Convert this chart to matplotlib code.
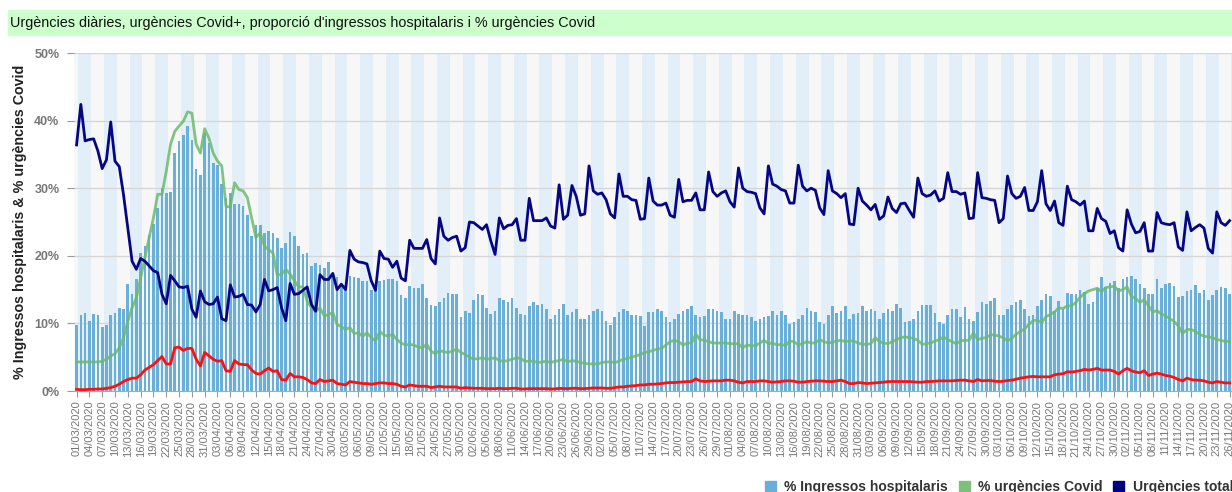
import matplotlib.pyplot as plt
import matplotlib.patches as mpatches
import pandas as pd

plt.rcParams['font.family'] = ['Liberation Sans', 'DejaVu Sans']

# dates: one point per day from 01/03/2020
start_date = '2020-03-01'
n_days = 271

# % ingressos hospitalaris (bars)
ingressos = [
    9.75, 11.2, 11.6, 10.4, 11.4, 11.2, 9.5, 9.7, 11.3, 11.5,
    12.3, 12.2, 15.8, 14.4, 16.5, 20.4, 21.4, 23.1, 24.7, 27.1,
    30.1, 29.3, 29.5, 35.2, 37.0, 37.8, 39.2, 37.2, 32.9, 31.9,
    38.2, 36.7, 33.7, 33.5, 30.6, 28.6, 29.3, 27.6, 27.7, 27.3,
    26.1, 22.9, 24.5, 24.5, 23.4, 23.6, 23.4, 22.7, 21.2, 21.9,
    23.5, 22.9, 21.4, 20.2, 20.4, 18.5, 19.0, 18.6, 18.2, 19.1,
    17.2, 16.8, 15.7, 15.4, 17.0, 16.8, 16.7, 16.3, 16.3, 15.0,
    15.7, 16.3, 16.4, 16.5, 16.5, 16.3, 14.2, 13.8, 15.5, 15.2,
    15.3, 15.8, 13.8, 12.7, 12.6, 13.2, 13.8, 14.5, 14.4, 14.3,
    10.9, 11.8, 11.6, 13.4, 14.4, 14.2, 12.3, 11.4, 11.9, 13.8,
    13.4, 13.1, 13.8, 12.3, 11.4, 11.3, 12.6, 13.1, 12.7, 12.9,
    12.2, 10.7, 11.3, 12.1, 12.9, 11.2, 11.7, 12.2, 10.7, 10.7,
    11.3, 11.8, 12.1, 11.8, 10.4, 9.75, 10.9, 11.7, 12.2, 11.8,
    11.2, 11.3, 11.1, 9.6, 11.7, 11.7, 12.2, 11.8, 10.9, 10.2,
    10.6, 11.4, 11.8, 12.1, 12.6, 11.3, 10.9, 11.1, 12.1, 12.1,
    11.8, 11.7, 10.6, 10.6, 11.8, 11.4, 11.2, 11.3, 10.9, 10.4,
    10.7, 10.9, 11.1, 11.9, 11.3, 11.9, 11.2, 9.85, 10.2, 10.6,
    11.3, 12.3, 11.8, 11.7, 10.2, 9.85, 11.2, 12.6, 11.6, 11.8,
    12.6, 10.7, 11.4, 11.6, 12.6, 11.9, 12.1, 11.9, 10.7, 11.6,
    12.2, 11.8, 12.9, 12.3, 10.2, 10.3, 10.6, 11.9, 12.7, 12.7,
    12.7, 11.6, 10.2, 9.85, 11.2, 12.1, 12.2, 10.9, 12.4, 10.7,
    10.4, 11.7, 13.2, 12.9, 13.3, 13.8, 11.3, 11.3, 12.2, 12.7,
    13.1, 13.5, 12.2, 11.1, 11.3, 12.6, 13.4, 14.3, 14.0, 11.8,
    13.3, 12.1, 14.5, 14.4, 14.3, 15.0, 14.7, 12.9, 13.2, 15.2,
    16.8, 15.4, 16.0, 16.2, 15.3, 16.5, 16.8, 17.0, 16.5, 15.8,
    15.2, 14.4, 14.3, 16.5, 15.3, 15.8, 16.0, 15.5, 13.9, 14.0,
    14.8, 15.0, 15.7, 14.5, 15.0, 13.4, 14.2, 15.0, 15.4, 15.2, 14.3,
]

# % urgències Covid (green line)
urg_covid = [
    4.3, 4.3, 4.3, 4.3, 4.3, 4.3, 4.4, 4.7, 5.2, 5.5,
    6.4, 7.9, 10.3, 12.3, 13.8, 16.7, 19.7, 22.7, 25.6, 29.1,
    29.1, 32.5, 36.5, 38.4, 39.2, 39.9, 41.3, 41.1, 36.5, 35.2,
    38.8, 37.4, 35.2, 34.0, 33.3, 27.3, 27.2, 30.8, 29.8, 29.6,
    28.6, 25.6, 22.7, 23.4, 21.4, 20.9, 20.4, 17.1, 17.3, 18.0,
    17.3, 16.3, 15.4, 15.4, 13.3, 12.3, 11.8, 12.3, 11.1, 11.3,
    11.6, 9.85, 9.5, 9.1, 9.4, 8.5, 8.6, 8.1, 8.6, 7.9,
    7.4, 8.8, 8.3, 8.1, 8.4, 7.6, 7.1, 6.8, 6.9, 6.8,
    6.5, 6.4, 6.9, 5.9, 5.5, 6.0, 5.8, 5.7, 5.9, 6.2,
    5.7, 5.4, 5.0, 4.7, 4.8, 4.9, 4.7, 4.8, 4.9, 4.5,
    4.4, 4.5, 4.7, 4.9, 4.8, 4.4, 4.4, 4.4, 4.2, 4.3,
    4.4, 4.2, 4.4, 4.5, 4.7, 4.3, 4.5, 4.4, 4.2, 4.1,
    4.0, 4.0, 4.0, 4.2, 4.3, 4.3, 4.2, 4.4, 4.7, 4.8,
    5.0, 5.2, 5.4, 5.7, 5.8, 6.0, 6.2, 6.3, 6.8, 7.3,
    7.5, 7.3, 6.8, 7.1, 7.1, 8.4, 7.6, 7.5, 7.3, 7.1,
    7.1, 7.1, 7.1, 7.0, 7.0, 7.0, 6.4, 6.8, 6.7, 6.7,
    7.1, 7.5, 7.0, 7.1, 6.8, 6.9, 6.7, 7.4, 7.3, 6.8,
    7.0, 7.3, 7.1, 7.1, 7.6, 7.3, 7.1, 7.2, 7.4, 7.5,
    7.3, 7.4, 7.4, 7.1, 6.9, 6.9, 7.0, 7.9, 7.3, 7.1,
    7.0, 7.3, 7.6, 7.9, 8.0, 7.9, 7.8, 7.5, 6.9, 7.0,
    7.1, 7.4, 7.6, 8.0, 7.6, 7.3, 7.0, 7.4, 7.5, 7.5,
    8.6, 7.6, 7.8, 7.9, 8.3, 8.3, 8.1, 7.9, 7.4, 7.8,
    8.4, 8.8, 9.2, 9.85, 10.4, 10.5, 10.1, 11.0, 11.3, 11.7,
    12.3, 12.2, 12.6, 12.6, 13.1, 13.9, 14.4, 14.8, 15.0, 15.2,
    14.7, 15.3, 15.4, 15.5, 14.8, 15.0, 15.4, 14.0, 13.7, 13.1,
    13.5, 12.6, 11.7, 11.9, 11.4, 11.1, 10.7, 10.3, 9.6, 8.5,
    9.1, 9.1, 8.8, 8.4, 8.1, 8.0, 7.9, 7.6, 7.5, 7.3, 7.4,
]

# Urgències totals (navy line)
urg_totals = [
    36.4, 42.4, 37.0, 37.2, 37.3, 35.5, 32.9, 34.2, 39.8, 34.0,
    33.2, 29.0, 24.1, 19.2, 18.0, 19.6, 19.2, 18.5, 17.8, 17.5,
    14.3, 12.9, 17.1, 16.3, 15.4, 15.3, 15.5, 12.1, 10.9, 14.8,
    13.2, 12.8, 12.9, 13.9, 10.7, 10.4, 15.7, 13.9, 14.0, 14.3,
    12.8, 12.7, 11.7, 12.8, 16.5, 14.8, 15.0, 15.3, 12.3, 10.4,
    15.9, 14.3, 14.4, 14.9, 15.4, 12.8, 11.8, 17.2, 16.5, 16.5,
    17.4, 15.0, 15.8, 15.0, 20.8, 19.5, 19.1, 19.0, 18.8, 16.3,
    14.9, 20.7, 19.6, 19.5, 18.3, 19.2, 16.7, 16.3, 22.3, 21.1,
    21.1, 21.1, 22.4, 19.6, 18.8, 25.6, 22.9, 22.3, 22.7, 22.9,
    20.7, 21.2, 25.0, 24.9, 24.4, 23.9, 24.6, 22.2, 20.2, 25.6,
    24.0, 24.5, 24.6, 25.5, 22.3, 22.3, 28.5, 25.2, 25.2, 25.2,
    25.6, 24.4, 24.1, 30.5, 25.4, 26.0, 30.4, 28.8, 26.0, 26.2,
    33.3, 29.6, 29.1, 29.3, 28.3, 26.2, 25.6, 32.1, 28.8, 28.8,
    28.3, 28.2, 25.4, 25.5, 31.5, 28.1, 27.5, 27.5, 27.8, 26.0,
    25.7, 31.3, 28.0, 28.2, 28.2, 29.3, 26.8, 26.8, 32.4, 29.5,
    28.8, 29.3, 29.6, 28.0, 27.2, 33.0, 30.0, 29.5, 29.4, 29.2,
    27.1, 26.2, 33.3, 30.6, 30.3, 29.8, 29.6, 27.8, 27.8, 33.4,
    30.3, 29.6, 30.0, 29.7, 27.1, 26.1, 32.6, 29.6, 29.2, 28.6,
    29.2, 24.7, 24.6, 30.0, 28.1, 27.5, 26.8, 27.6, 25.4, 25.9,
    28.7, 27.0, 26.4, 27.7, 27.8, 26.7, 25.7, 31.5, 29.2, 28.8,
    29.0, 29.6, 28.1, 28.5, 32.3, 29.5, 29.5, 29.1, 29.3, 25.5,
    25.6, 32.3, 28.6, 28.5, 28.3, 28.2, 24.9, 25.5, 31.8, 29.2,
    28.5, 28.8, 30.1, 26.7, 26.7, 28.0, 32.6, 27.7, 26.7, 28.1,
    24.9, 24.5, 30.3, 28.3, 28.0, 27.5, 28.1, 23.7, 23.7, 27.0,
    25.5, 25.1, 23.3, 23.7, 21.2, 20.7, 26.8, 24.7, 23.4, 23.6,
    24.9, 20.7, 20.7, 26.4, 24.9, 24.7, 24.6, 24.9, 21.3, 20.8,
    26.5, 23.7, 24.2, 24.6, 24.1, 21.1, 20.4, 26.5, 24.9, 24.5, 25.2,
]

# Urgències Covid+ (red line)
urg_covid_pos = [
    0.25, 0.2, 0.2, 0.25, 0.25, 0.3, 0.3, 0.4, 0.5, 0.7,
    1.0, 1.4, 1.7, 1.9, 1.9, 2.4, 3.1, 3.5, 3.9, 4.5,
    5.1, 4.0, 4.0, 6.4, 6.5, 6.0, 6.3, 6.3, 4.7, 3.7,
    5.7, 5.2, 4.7, 4.4, 4.5, 3.0, 2.9, 4.5, 4.0, 3.9,
    3.9, 3.1, 2.6, 2.5, 3.0, 3.4, 2.9, 3.0, 1.7, 1.6,
    2.6, 2.1, 2.1, 2.0, 1.7, 1.2, 1.1, 1.7, 1.4, 1.5,
    1.6, 1.1, 1.0, 0.9, 1.4, 1.3, 1.2, 1.1, 1.1, 1.0,
    1.1, 1.2, 1.2, 1.1, 1.1, 1.0, 0.7, 0.6, 0.9, 0.8,
    0.7, 0.7, 0.7, 0.5, 0.6, 0.7, 0.6, 0.6, 0.6, 0.6,
    0.4, 0.5, 0.45, 0.4, 0.4, 0.4, 0.35, 0.35, 0.35, 0.4,
    0.35, 0.35, 0.4, 0.4, 0.3, 0.3, 0.35, 0.35, 0.35, 0.35,
    0.35, 0.3, 0.3, 0.4, 0.35, 0.35, 0.4, 0.4, 0.35, 0.35,
    0.4, 0.45, 0.45, 0.45, 0.4, 0.4, 0.5, 0.6, 0.6, 0.7,
    0.75, 0.8, 0.9, 0.9, 1.0, 1.0, 1.05, 1.1, 1.2, 1.25,
    1.25, 1.3, 1.35, 1.4, 1.4, 1.8, 1.5, 1.4, 1.45, 1.5,
    1.5, 1.5, 1.6, 1.6, 1.5, 1.3, 1.2, 1.4, 1.4, 1.4,
    1.5, 1.5, 1.4, 1.3, 1.35, 1.4, 1.5, 1.5, 1.45, 1.3,
    1.3, 1.4, 1.45, 1.5, 1.5, 1.45, 1.4, 1.4, 1.5, 1.6,
    1.4, 1.1, 1.1, 1.25, 1.2, 1.1, 1.15, 1.2, 1.25, 1.3,
    1.4, 1.4, 1.4, 1.4, 1.4, 1.4, 1.35, 1.3, 1.3, 1.4,
    1.4, 1.45, 1.5, 1.5, 1.5, 1.5, 1.55, 1.6, 1.6, 1.5,
    1.4, 1.7, 1.5, 1.55, 1.55, 1.45, 1.4, 1.45, 1.55, 1.6,
    1.75, 1.9, 2.0, 2.1, 2.15, 2.1, 2.1, 2.1, 2.1, 2.4,
    2.5, 2.55, 2.85, 2.8, 2.9, 3.0, 3.2, 3.1, 3.2, 3.35,
    3.1, 3.1, 3.1, 2.9, 2.5, 3.0, 3.35, 3.0, 2.8, 2.7,
    3.0, 2.3, 2.5, 2.65, 2.5, 2.3, 2.2, 2.0, 1.7, 1.5,
    1.9, 1.7, 1.6, 1.6, 1.5, 1.3, 1.2, 1.4, 1.3, 1.2, 1.2,
]

dates = pd.date_range(start_date, periods=n_days, freq='D')
x = list(range(n_days))
tick_pos = x[::3]
tick_labels = [d.strftime('%d/%m/%Y') for d in dates[::3]]
y_ticks = [0, 10, 20, 30, 40, 50]

W, H = 1232, 492
fig = plt.figure(figsize=(W / 100, H / 100), dpi=100)
ax = fig.add_axes([74 / W, (H - 391) / H, (W - 74) / W, 338 / H])
ax.set_facecolor('#f7f7f7')

# franges alternes
for k in range(0, n_days, 6):
    ax.axvspan(k + 0.4, k + 3.4, color='#e2eff8', lw=0, zorder=0)

for v in y_ticks[1:]:
    ax.axhline(v, color='#d6d6d6', lw=1, zorder=1)

ax.bar(x, ingressos, width=0.62, color='#6aafd8', zorder=2)
ax.plot(x, urg_covid, color='#6cba6c', lw=2, alpha=0.85, zorder=3)
ax.plot(x, urg_totals, color='#050585', lw=2, zorder=4)
ax.plot(x, urg_covid_pos, color='#ff1010', lw=2, zorder=4)

ax.set_xlim(-0.6, 270.56)
ax.set_ylim(0, 50)
ax.set_xticks(tick_pos)
ax.set_xticklabels(tick_labels, rotation=90, fontsize=8, color='#777777')
ax.set_yticks(y_ticks)
ax.set_yticklabels([f'{v}%' for v in y_ticks], fontsize=9, fontweight='bold', color='#777777')
ax.tick_params(axis='x', length=4, color='#999999', pad=3)
ax.tick_params(axis='y', length=5, color='#999999', pad=5.5)
for s in ['top', 'right', 'left']:
    ax.spines[s].set_visible(False)
ax.spines['bottom'].set_color('#aaaaaa')

# capçalera
fig.patches.append(mpatches.Rectangle((8 / W, (H - 35) / H), (W - 8) / W, 25 / H,
                                      transform=fig.transFigure, color='#ccffcc', zorder=0))
fig.text(10 / W, (H - 22.5) / H,
         "Urgències diàries, urgències Covid+, proporció d'ingressos hospitalaris i % urgències Covid",
         fontsize=10.4, va='center', ha='left', color='#111111')

fig.text(20 / W, (H - 222) / H, '% Ingressos hospitalaris & % urgències Covid',
         rotation=90, fontsize=10.3, fontweight='bold', va='center', ha='center', color='#222222')

handles = [mpatches.Patch(color='#6aafd8', label='% Ingressos hospitalaris'),
           mpatches.Patch(color='#7cc07c', label='% urgències Covid'),
           mpatches.Patch(color='#000080', label='Urgències totals')]
leg = fig.legend(handles=handles, loc='center left', bbox_to_anchor=(765 / W, (H - 487) / H),
                 ncol=3, frameon=False, fontsize=10, handlelength=0.8, handleheight=0.8,
                 handletextpad=0.6, columnspacing=0.75, borderpad=0, borderaxespad=0)
for t in leg.get_texts():
    t.set_fontweight('bold')
    t.set_color('#333333')

fig.savefig('out.png', dpi=100)
